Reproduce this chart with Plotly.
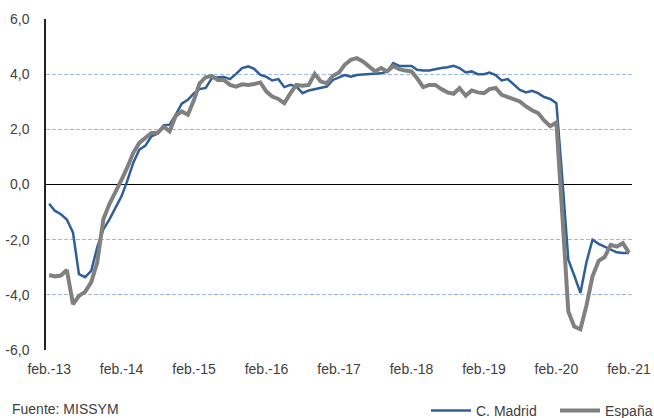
import pandas as pd
import plotly.graph_objects as go

# Monthly series, feb-2013 .. feb-2021 (97 months)
months = pd.date_range("2013-02-01", periods=97, freq="MS")

madrid = [
    -0.70, -0.95, -1.08, -1.27, -1.74, -3.25, -3.36, -3.13, -2.28, -1.63, -1.27, -0.84,
    -0.42, 0.12, 0.79, 1.26, 1.41, 1.75, 1.84, 2.15, 2.17, 2.53, 2.93, 3.07,
    3.31, 3.46, 3.50, 3.85, 3.89, 3.90, 3.82, 4.01, 4.22, 4.28, 4.19, 3.97,
    3.90, 3.77, 3.82, 3.53, 3.61, 3.55, 3.31, 3.41, 3.46, 3.50, 3.55, 3.79,
    3.88, 3.97, 3.91, 3.97, 3.99, 4.00, 4.03, 4.03, 4.10, 4.40, 4.30, 4.30,
    4.30, 4.16, 4.13, 4.13, 4.18, 4.22, 4.25, 4.30, 4.22, 4.06, 4.10, 4.00,
    4.00, 4.06, 3.97, 3.77, 3.82, 3.61, 3.43, 3.34, 3.40, 3.31, 3.17, 3.10,
    2.95, 0.30, -2.73, -3.30, -3.93, -2.83, -2.00, -2.15, -2.25, -2.38, -2.46, -2.48,
    -2.48,
]

espana = [
    -3.28, -3.33, -3.30, -3.10, -4.34, -4.04, -3.89, -3.54, -2.83, -1.26, -0.72, -0.30,
    0.18, 0.61, 1.15, 1.51, 1.69, 1.87, 1.87, 2.10, 1.93, 2.50, 2.65, 2.53,
    3.07, 3.67, 3.89, 3.94, 3.79, 3.79, 3.61, 3.55, 3.63, 3.61, 3.64, 3.70,
    3.37, 3.19, 3.10, 2.95, 3.31, 3.61, 3.58, 3.61, 4.01, 3.73, 3.67, 3.94,
    4.06, 4.34, 4.52, 4.58, 4.46, 4.28, 4.10, 4.22, 4.10, 4.30, 4.18, 4.13,
    4.10, 3.85, 3.53, 3.61, 3.61, 3.46, 3.34, 3.29, 3.49, 3.22, 3.41, 3.34,
    3.31, 3.46, 3.50, 3.25, 3.17, 3.07, 3.01, 2.83, 2.69, 2.59, 2.32, 2.11,
    2.25, -1.00, -4.60, -5.15, -5.25, -4.40, -3.33, -2.77, -2.63, -2.19, -2.25, -2.13,
    -2.48,
]

x_tick_vals = pd.date_range("2013-02-01", periods=9, freq="12MS")
x_tick_text = ["feb.-13", "feb.-14", "feb.-15", "feb.-16", "feb.-17",
               "feb.-18", "feb.-19", "feb.-20", "feb.-21"]
y_tick_vals = [-6, -4, -2, 0, 2, 4, 6]
y_tick_text = ["-6,0", "-4,0", "-2,0", "0,0", "2,0", "4,0", "6,0"]

FONT = "Liberation Sans, Arial, sans-serif"
TXT = "#404040"
FS = 14

fig = go.Figure()
fig.add_trace(go.Scatter(x=months, y=madrid, mode="lines", name="C. Madrid",
                         line=dict(color="#2f5f98", width=2.5)))
fig.add_trace(go.Scatter(x=months, y=espana, mode="lines", name="España",
                         line=dict(color="#808080", width=4)))

fig.update_layout(
    width=654, height=418,
    margin=dict(l=46, r=22, t=19, b=68, autoexpand=False),
    paper_bgcolor="white", plot_bgcolor="white",
    font=dict(family=FONT, size=FS, color=TXT),
    showlegend=True,
    legend=dict(orientation="h", xref="container", yref="container",
                x=426 / 654, xanchor="left", y=1 - 395 / 418, yanchor="top",
                font=dict(family=FONT, size=FS, color=TXT),
                bgcolor="rgba(0,0,0,0)", borderwidth=0, itemwidth=40,
                entrywidth=74, tracegroupgap=0),
    xaxis=dict(
        range=["2013-01-16", "2021-02-16"], automargin=False,
        tickmode="array", tickvals=x_tick_vals, ticktext=x_tick_text,
        showgrid=False, showline=False, zeroline=False,
        ticks="", ticklabelstandoff=9,
        tickfont=dict(family=FONT, size=FS, color=TXT),
    ),
    yaxis=dict(
        range=[-6, 6], automargin=False,
        tickmode="array", tickvals=y_tick_vals, ticktext=y_tick_text,
        showgrid=True, gridcolor="#9dbbe6", griddash="4px,2px", gridwidth=1,
        zeroline=True, zerolinecolor="#000000", zerolinewidth=1.3,
        showline=True, linecolor="#222222", linewidth=1.5,
        ticks="", ticklabelstandoff=12,
        tickfont=dict(family=FONT, size=FS, color=TXT),
    ),
    annotations=[dict(text="Fuente: MISSYM", xref="paper", yref="paper",
                      x=-0.0614, y=-0.178, xanchor="left", yanchor="middle",
                      showarrow=False, font=dict(family=FONT, size=FS, color=TXT))],
)

fig.write_html(
    "out.html",
    config={"displayModeBar": False},
    post_script="document.body.style.margin='0';document.body.style.overflow='hidden';",
)
